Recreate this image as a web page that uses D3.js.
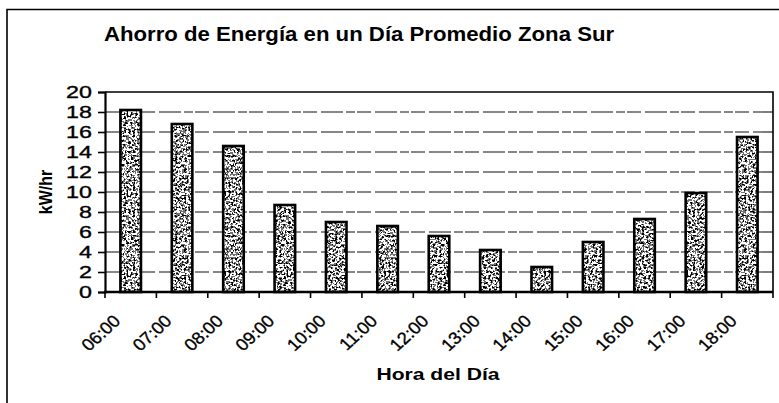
<!DOCTYPE html>
<html>
<head>
<meta charset="utf-8">
<script src="https://cdn.jsdelivr.net/npm/d3@7"></script>
<style>
  html, body { margin: 0; padding: 0; background: #fff; }
  svg { display: block; }
  text { font-family: "Liberation Sans", Arial, sans-serif; fill: #000; }
  .tick-label { stroke: #000; stroke-width: 0.35px; }
</style>
</head>
<body>
<svg id="chart" width="779" height="403"></svg>
<script>
// Hourly energy savings, southern zone
const hours = ["06:00","07:00","08:00","09:00","10:00","11:00","12:00",
               "13:00","14:00","15:00","16:00","17:00","18:00"];
const savings = [18.2, 16.8, 14.6, 8.7, 7.0, 6.6, 5.6, 4.2, 2.5, 5.0, 7.3, 9.9, 15.5];
const yTicks = [0, 2, 4, 6, 8, 10, 12, 14, 16, 18, 20];

const titleText = "Ahorro de Energía en un Día Promedio Zona Sur";
const xTitle = "Hora del Día";
const yTitle = "kW/hr";

const svg = d3.select("#chart");
const W = 779, H = 403;
const plot = { left: 105, right: 773, top: 92, bottom: 292 };

// stippled fill for the bars
const defs = svg.append("defs");
const filt = defs.append("filter").attr("id", "speckle")
  .attr("x", 0).attr("y", 0).attr("width", 1).attr("height", 1);
filt.append("feTurbulence").attr("type", "fractalNoise")
  .attr("baseFrequency", 0.45).attr("numOctaves", 3).attr("seed", 11).attr("result", "n");
filt.append("feColorMatrix").attr("type", "matrix").attr("in", "n")
  .attr("values", "0 0 0 0 0  0 0 0 0 0  0 0 0 0 0  1.6 0 0 0 -0.38").attr("result", "m");
const ct = filt.append("feComponentTransfer").attr("in", "m");
ct.append("feFuncA").attr("type", "discrete").attr("tableValues", "0 0 0.55 1 1");

const pat = defs.append("pattern").attr("id", "stipple")
  .attr("patternUnits", "userSpaceOnUse").attr("width", 80).attr("height", 80);
pat.append("rect").attr("width", 80).attr("height", 80).attr("fill", "#fff");
pat.append("rect").attr("width", 80).attr("height", 80).attr("fill", "#111")
  .attr("filter", "url(#speckle)");

// outer chart frame
svg.append("path")
  .attr("d", `M7,${H} L7,9.5 L${W},9.5`)
  .attr("fill", "none").attr("stroke", "#000").attr("stroke-width", 1.6);

const x = d3.scaleBand().domain(hours).range([plot.left, plot.right])
  .paddingInner(0.6).paddingOuter(0.3);
const xEdges = d3.scaleLinear().domain([0, hours.length]).range([plot.left, plot.right]);
const y = d3.scaleLinear().domain([0, 20]).range([plot.bottom, plot.top]);

// dashed gridlines
svg.append("g").selectAll("line").data(yTicks.filter(d => d > 0 && d < 20)).join("line")
  .attr("x1", plot.left).attr("x2", plot.right)
  .attr("y1", d => y(d)).attr("y2", d => y(d))
  .attr("stroke", "#111").attr("stroke-width", 1.1)
  .attr("stroke-dasharray", "22,3,9,2,14,4");

// plot area frame (top and right)
svg.append("path")
  .attr("d", `M${plot.left},${plot.top} L${plot.right},${plot.top} L${plot.right},${plot.bottom}`)
  .attr("fill", "none").attr("stroke", "#000").attr("stroke-width", 1.6);

// bars
svg.append("g").selectAll("rect").data(hours).join("rect")
  .attr("x", d => x(d))
  .attr("width", x.bandwidth())
  .attr("y", (d, i) => y(savings[i]))
  .attr("height", (d, i) => y(0) - y(savings[i]))
  .attr("fill", "url(#stipple)")
  .attr("stroke", "#000").attr("stroke-width", 2.6);

// y axis (line + ticks from d3, labels drawn wider below)
const yAxis = svg.append("g").attr("transform", `translate(${plot.left},0)`)
  .call(d3.axisLeft(y).tickValues(yTicks).tickSize(7).tickFormat(""));
yAxis.select(".domain").attr("stroke-width", 2.2);
yAxis.selectAll(".tick line").attr("stroke-width", 1.6);
svg.append("g").selectAll("text").data(yTicks).join("text")
  .attr("class", "tick-label")
  .attr("transform", d => `translate(92,${y(d)}) scale(1.37,1)`)
  .attr("text-anchor", "end").attr("dy", "0.36em")
  .style("font-size", "17px")
  .text(d3.format("d"));

// x axis: ticks between categories
const xAxisG = svg.append("g").attr("transform", `translate(0,${plot.bottom})`);
xAxisG.append("line").attr("x1", plot.left - 1).attr("x2", plot.right)
  .attr("stroke", "#000").attr("stroke-width", 2.6);
xAxisG.selectAll("line.tk").data(d3.range(hours.length + 1)).join("line")
  .attr("class", "tk")
  .attr("x1", d => xEdges(d)).attr("x2", d => xEdges(d))
  .attr("y1", 0).attr("y2", 6)
  .attr("stroke", "#000").attr("stroke-width", 1.6);
xAxisG.selectAll("text").data(hours).join("text")
  .attr("class", "tick-label")
  .attr("transform", d => `translate(${x(d) + x.bandwidth() / 2 - 19},${21}) scale(1.08,1) rotate(-45)`)
  .attr("text-anchor", "end")
  .attr("dy", "0.75em")
  .style("font-size", "17px")
  .text(d => d);

// titles
svg.append("text").attr("transform", "translate(359,41) scale(1.11,1)")
  .attr("text-anchor", "middle").style("font-size", "20px").style("font-weight", "bold")
  .text(titleText);
svg.append("text").attr("transform", "translate(438,380) scale(1.28,1)")
  .attr("text-anchor", "middle").style("font-size", "16.5px").style("font-weight", "bold")
  .text(xTitle);
svg.append("text").attr("transform", `translate(52,${(plot.top + plot.bottom) / 2}) rotate(-90) scale(1,1.2)`)
  .attr("text-anchor", "middle").style("font-size", "16px").style("font-weight", "bold")
  .text(yTitle);
</script>
</body>
</html>
